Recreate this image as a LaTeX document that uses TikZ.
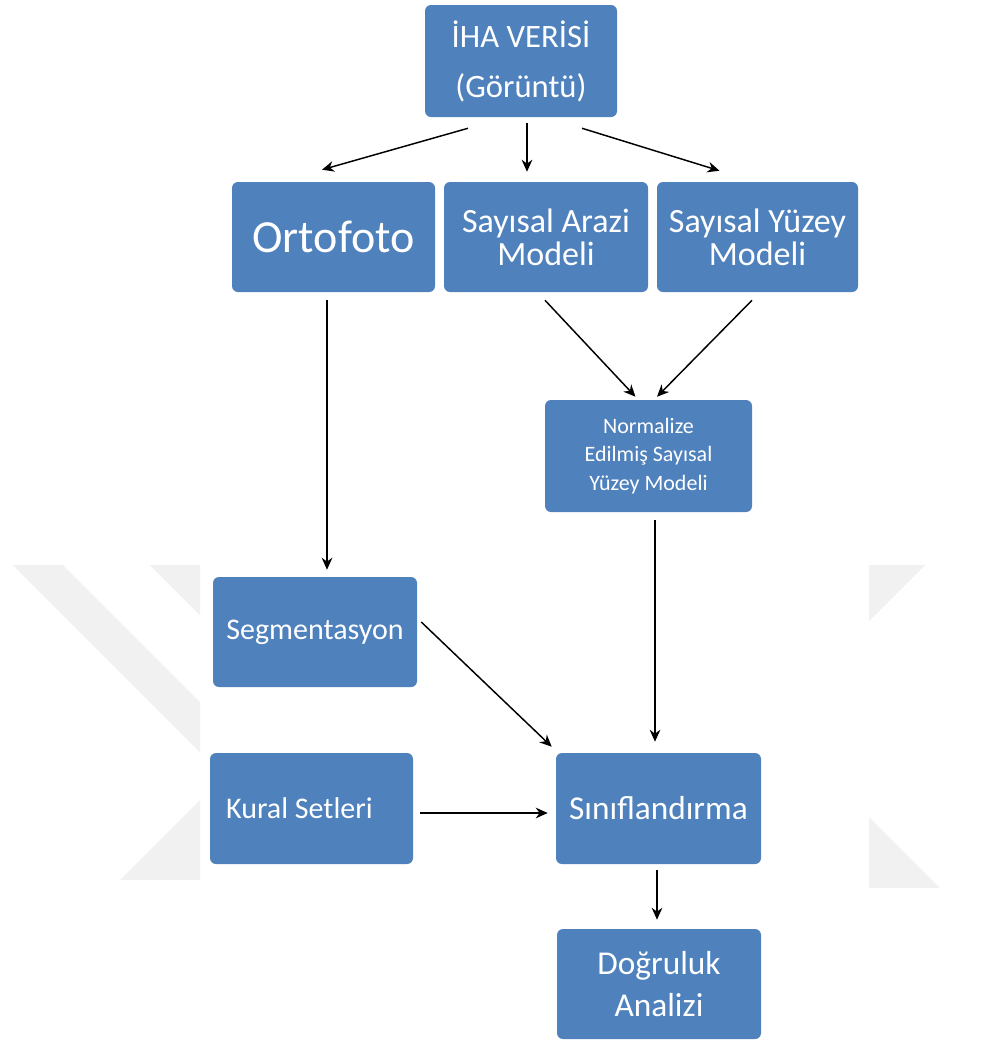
\documentclass[tikz,border=0pt]{standalone}
\usepackage{fontspec}
\setmainfont{Carlito}
\usetikzlibrary{arrows.meta,calc}
\definecolor{kutumavi}{HTML}{4F81BD}
\definecolor{filigran}{HTML}{F1F1F1}
\tikzset{>={Stealth[length=9pt,width=8pt]}}
\tikzset{
  kutu/.style={rectangle, rounded corners=4.5pt, fill=kutumavi, text=white,
    align=center, inner sep=2pt},
  ok/.style={->, line width=1.1pt, black},
}

\begin{document}
\begin{tikzpicture}[x=0.75pt,y=-0.75pt]
  \fill[white] (0,0) rectangle (983,1043);
  \useasboundingbox (0,0) rectangle (983,1043);

  \fill[filigran] (13,565) -- (63,565) -- (200,702) -- (200,752) -- cycle;
  \fill[filigran] (150,565) -- (200,565) -- (200,615) -- cycle;
  \fill[filigran] (200,800) -- (200,880) -- (120,880) -- cycle;
  \fill[filigran] (869,565) -- (925,565) -- (869,621) -- cycle;
  \fill[filigran] (869,817) -- (940,888) -- (869,888) -- cycle;

  \node[kutu, minimum width=144pt, minimum height=84pt,
    font=\fontsize{24.5}{37.5}\selectfont] (iha) at (521,61) {İHA VERİSİ\\(Görüntü)};

  \node[kutu, minimum width=152.25pt, minimum height=82.5pt,
    font=\fontsize{34.5}{40}\selectfont] (orto) at (333.5,237) {Ortofoto};
  \node[kutu, minimum width=153pt, minimum height=82.5pt,
    font=\fontsize{25.5}{25}\selectfont] (arazi) at (546,237) {Sayısal Arazi\\Modeli};
  \node[kutu, minimum width=150.75pt, minimum height=82.5pt,
    font=\fontsize{25.5}{25}\selectfont] (yuzey) at (757.5,237) {Sayısal Yüzey\\Modeli};

  \node[kutu, minimum width=155.25pt, minimum height=84pt,
    font=\fontsize{16.5}{21.4}\selectfont] (norm) at (648.5,456)
    {Normalize\\Edilmiş Sayısal\\Yüzey Modeli};

  \node[kutu, minimum width=153pt, minimum height=82.5pt,
    font=\fontsize{22.5}{27}\selectfont] (segm) at (315,632) {Segmentasyon};
  \node[kutu, minimum width=152.25pt, minimum height=83.25pt,
    align=flush left, text width=128pt, inner xsep=12pt,
    font=\fontsize{22.5}{27}\selectfont] (kural) at (311.5,808.5) {Kural Setleri};
  \node[kutu, minimum width=153.75pt, minimum height=83.25pt,
    font=\fontsize{25}{30}\selectfont] (sinif) at (658.5,808.5) {Sınıflandırma};

  \node[kutu, minimum width=153pt, minimum height=82.5pt,
    font=\fontsize{25}{31.5}\selectfont] (dogru) at (659,984) {Doğruluk\\Analizi};

  \draw[ok] ($(iha.south)+(-53,11)$) -- ($(orto.north)+(-11.5,-12)$);
  \draw[ok] ($(iha.south)+(6,6)$) -- ($(arazi.north)+(-19,-10)$);
  \draw[ok] ($(iha.south)+(61,11)$) -- ($(yuzey.north)+(-38,-11)$);

  \draw[ok] ($(arazi.south)+(-1,8)$) -- ($(norm.north)+(-13,-3)$);
  \draw[ok] ($(yuzey.south)+(-5.5,8)$) -- ($(norm.north)+(8.5,-3)$);

  \draw[ok] ($(orto.south)+(-6.5,8)$) -- ($(segm.north)+(12,-7)$);
  \draw[ok] ($(norm.south)+(6.5,8)$) -- ($(sinif.north)+(-3.5,-11)$);
  \draw[ok] ($(segm.east)+(4,-10)$) -- ($(sinif.north west)+(-4,-6)$);
  \draw[ok] ($(kural.east)+(7,4.5)$) -- ($(sinif.west)+(-8,4.5)$);
  \draw[ok] ($(sinif.south)+(-1.5,6)$) -- ($(dogru.north)+(-2,-9)$);
\end{tikzpicture}
\end{document}
